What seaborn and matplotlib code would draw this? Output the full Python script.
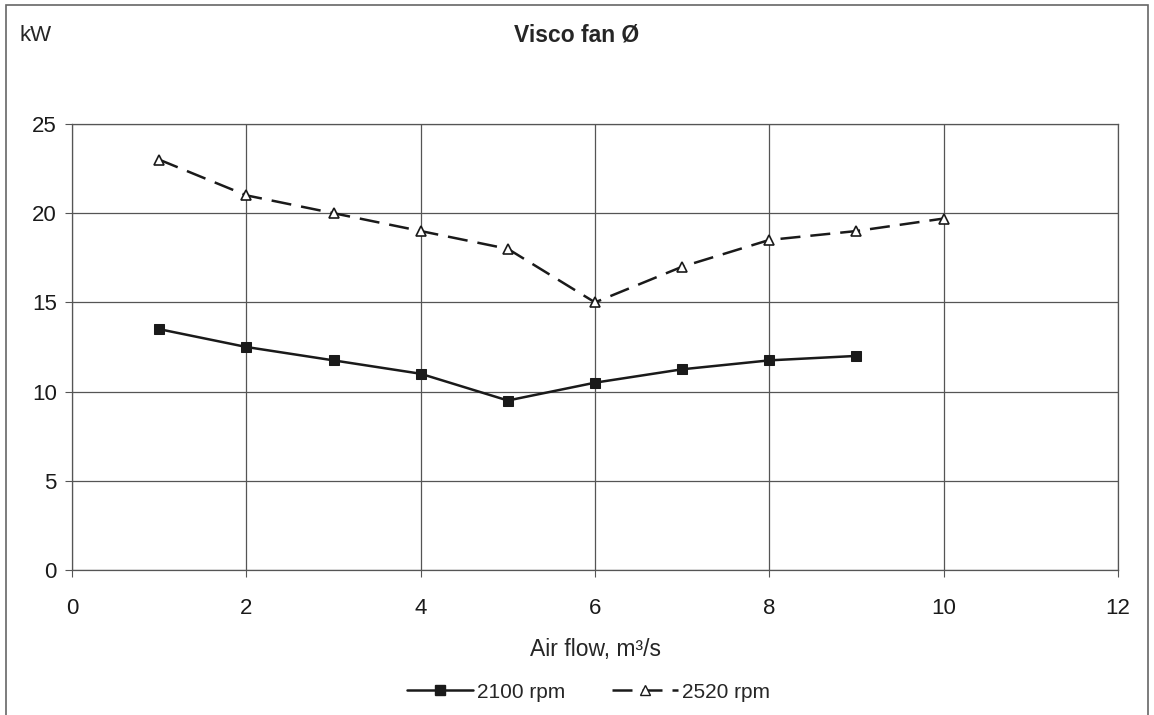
import pandas as pd
import matplotlib.pyplot as plt
import seaborn as sns
from matplotlib.patches import Rectangle

# Dados
air_flow_2100 = [1, 2, 3, 4, 5, 6, 7, 8, 9]
kw_2100 = [13.5, 12.5, 11.75, 11.0, 9.5, 10.5, 11.25, 11.75, 12.0]
air_flow_2520 = [1, 2, 3, 4, 5, 6, 7, 8, 9, 10]
kw_2520 = [23.0, 21.0, 20.0, 19.0, 18.0, 15.0, 17.0, 18.5, 19.0, 19.7]
series_names = ["2100 rpm", "2520 rpm"]
x_ticks = [0, 2, 4, 6, 8, 10, 12]
y_ticks = [0, 5, 10, 15, 20, 25]

df = pd.concat([
    pd.DataFrame({"x": air_flow_2100, "kW": kw_2100, "serie": series_names[0]}),
    pd.DataFrame({"x": air_flow_2520, "kW": kw_2520, "serie": series_names[1]}),
])

sns.set_style("white")
plt.rcParams['font.family'] = ['Liberation Sans', 'DejaVu Sans']

fig = plt.figure(figsize=(11.54, 7.15), dpi=100)
ax = fig.add_axes([0.0624, 0.2028, 0.9064, 0.6238])

sns.lineplot(data=df, x="x", y="kW", hue="serie", style="serie",
             palette={series_names[0]: "#1a1a1a", series_names[1]: "#1a1a1a"},
             markers={series_names[0]: "s", series_names[1]: "^"},
             dashes={series_names[0]: "", series_names[1]: (8, 4)},
             linewidth=1.8, ax=ax, legend=False)

# marcadores: quadrado preenchido, triângulo vazado
for line, name in zip(ax.get_lines(), series_names):
    if name == "2100 rpm":
        line.set_markersize(7)
        line.set_markerfacecolor("#1a1a1a")
        line.set_markeredgecolor("#1a1a1a")
    else:
        line.set_markersize(6.5)
        line.set_markerfacecolor("white")
        line.set_markeredgecolor("#1a1a1a")
        line.set_markeredgewidth(1.2)

ax.set_xlim(0, 12)
ax.set_ylim(0, 25)
ax.set_xticks(x_ticks)
ax.set_yticks(y_ticks)
ax.grid(True, color="#555555", linewidth=0.9)
for s in ax.spines.values():
    s.set_color("#555555")
    s.set_linewidth(0.9)
ax.tick_params(axis="both", labelsize=16, colors="#1a1a1a", length=5,
               direction="out", left=True, bottom=True, color="#555555")
ax.tick_params(axis="x", pad=15)
ax.tick_params(axis="y", pad=6)
ax.set_xlabel("Air flow, m³/s", fontsize=16.5, labelpad=14)
ax.set_ylabel("")

fig.text(0.5, 0.951, "Visco fan Ø", ha="center", va="center",
         fontsize=16.5, fontweight="bold")
fig.text(0.017, 0.951, "kW", ha="left", va="center", fontsize=16)

h1, = ax.plot([], [], color="#1a1a1a", marker="s", markersize=7, linewidth=1.8)
h2, = ax.plot([], [], color="#1a1a1a", marker="^", markersize=6.5,
              markerfacecolor="white", linewidth=1.8, dashes=(8, 4))
fig.legend([h1, h2], series_names, loc="center", bbox_to_anchor=(0.51, 0.032),
           ncol=2, frameon=False, fontsize=15, handlelength=3.2,
           columnspacing=2.2, handletextpad=0.2)

# moldura externa
fig.patches.append(Rectangle((0.005, -0.01), 0.99, 1.003, transform=fig.transFigure,
                             fill=False, edgecolor="#666666", linewidth=1.2))

plt.savefig("out.png", dpi=100)
